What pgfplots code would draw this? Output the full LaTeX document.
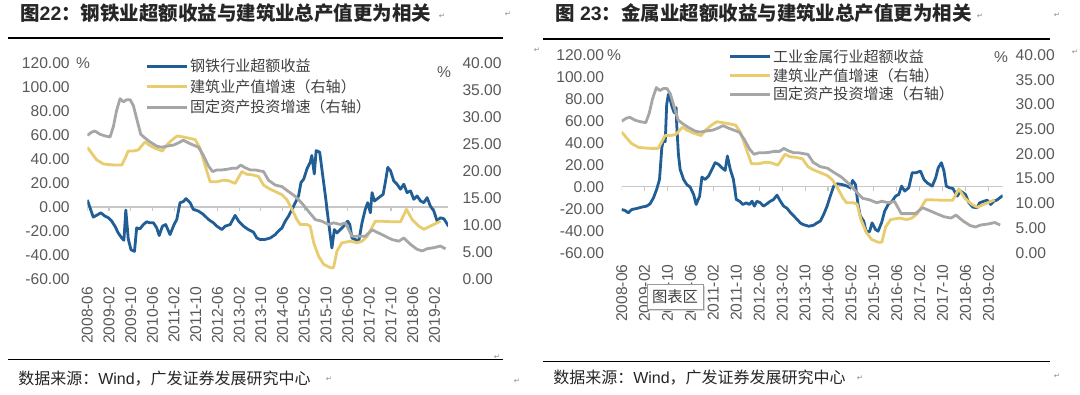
\documentclass[border=0pt]{standalone}
\usepackage{pgfplots}
\pgfplotsset{compat=1.18}
\usepackage{pgfplotstable}
\usepackage{fontspec}
\setmainfont{Liberation Sans}
\newfontfamily\cjk{Noto Sans CJK SC}
\newfontfamily\dejavu{DejaVu Sans}
\definecolor{cblue}{RGB}{33,94,150}
\definecolor{cyellow}{RGB}{232,204,110}
\definecolor{cgray}{RGB}{166,166,166}
\definecolor{ctick}{RGB}{89,89,89}
\definecolor{ctext}{RGB}{64,64,64}
\definecolor{czero}{RGB}{200,200,200}

% 钢铁行业超额收益 (left axis, chart 1)
\pgfplotstableread{
m v
0 5.9
2.2 -8.4
3.4 -7
5 -4.8
6.5 -7.6
7.8 -9
9 -11.8
10.2 -16
11.4 -21.6
12.7 -25.8
13.5 -27.7
14.2 -2.5
15.1 -26.6
16.1 -35.6
17.4 -37
18.2 -17.4
19.4 -18.2
20.7 -14.6
21.9 -12.3
23.1 -13.2
24.4 -13.2
25.6 -17.4
26.5 -23.8
27.7 -16
28.9 -14.6
30.5 -23
32 -14.6
33 -10.4
34.2 3.6
35.4 4.5
36.4 7
37.9 3.6
39.1 -2
41 -3.4
42.8 -6.2
44.7 -10.4
46.5 -13.2
47.8 -16
49.6 -18.8
50.8 -16
52.7 -14.6
54.5 -7
55.8 -11.8
57.6 -16
59.4 -18.8
61.3 -21
62.5 -25.8
63.8 -27.2
65.6 -27
67.5 -25.8
69.3 -23
70.5 -20
71.8 -17.4
73 -11.8
74.2 -7.6
75.5 -2
76.7 3.6
77.9 9.2
78.8 20.4
79.8 23.2
81 31.7
82.2 37.3
82.8 42.9
83.7 27.5
84.4 47
85.7 45.7
86.5 31.7
87.8 9.2
89 -13.2
90.2 -34.2
91.1 -18.8
92.1 -21.6
93.3 -18.8
94.5 -16
96 -11.8
96.8 -14.6
97.6 -25.8
98.9 -27.2
100.1 -28.6
101.3 -13.2
102.5 -2
103.4 3.6
104.4 -4.8
105 12
105.9 5
107.5 7.8
109.1 10.6
110 21.8
110.8 33
111.8 30.3
113 21.8
114.2 19
115.5 14.8
116.7 19
117.9 12
119.2 13.4
120.4 6.4
121.6 9.2
122.9 5
124.1 3.6
125.3 7.8
126.5 0.8
127.8 -3.4
129 -11.8
130.2 -9
131.5 -9.8
133.2 -16
}\steel

% 工业金属行业超额收益 (left axis, chart 2)
\pgfplotstableread{
m v
0 -20.7
1.2 -21.6
2.3 -23.7
3.5 -20.7
5.2 -19.8
7 -18.5
8.7 -17.6
9.9 -15.5
11.1 -10
12.2 -2.4
13.2 6.7
14 35.6
14.6 43.2
15.2 41
15.7 75
16.3 84.2
16.9 79.6
17.5 73.6
18.3 67.5
19 72
19.2 56.8
19.8 29.5
20.4 15.8
21.6 6.7
22.7 2.1
23.9 -0.3
25.1 -7
26 -16.1
27.2 -8.5
28 8.8
29.1 6.7
30.3 9.7
31.5 15.8
32.6 21.9
33.8 20.4
35 17.3
36.1 14.9
36.9 28
37.9 15.8
39 6.7
40 -11.6
41.1 -13.1
42.3 -16.1
43.5 -14.6
44.6 -16.1
45.5 -13.1
46.3 -17.6
47.2 -13.1
48.4 -14.6
49.5 -17.6
50.7 -15.5
51.9 -13.1
53 -11.6
54.2 -7.6
55.4 -13.1
56.5 -17.6
57.7 -19.5
58.9 -23.5
60.6 -28
62.4 -33
63.5 -34.5
65.3 -35.9
67 -35
68.2 -32.8
69.3 -31.3
70.5 -25.2
71.7 -17.6
72.8 -8.5
74 0.6
75.2 2.7
76.9 2.1
78.7 0.6
79.8 -0.9
80.6 5.8
81.6 2.1
82.5 -16.1
83.3 -26.7
84.5 -31.3
85.3 -40.4
86.5 -41
87.4 -32.8
88.6 -38.9
89.5 -40.4
90.7 -32.8
91.8 -22.2
93 -16.1
94.4 -13.1
95.6 -8.5
96.7 -7
97.7 0.6
98.8 -3.9
100.2 -0.9
101.4 12.8
102.8 12.8
104.3 14.3
105.5 6.7
106.6 3.6
108.4 0.6
109.6 8.2
110.5 17.3
111.6 21.9
112.5 14.3
113.3 0.6
114.4 -0.9
115.6 -1.5
117.1 -8.5
118.3 -3.9
120 -7
121.2 -14.6
122.6 -18.5
124.1 -19.1
124.9 -14.6
126.5 -13.1
127.6 -12.2
128.8 -16.1
130 -13
131 -12
132 -10
133 -8
}\metal

% 建筑业产值增速 (right axis)
\pgfplotstableread{
m v
0 24.4
1.6 23.3
3.4 22.1
5.9 21.3
7.8 21.2
10.2 21.1
12.7 21.1
13.9 22.3
15.1 23.7
17 23.7
18.8 23.9
21.3 25.4
22.8 24.8
25 24.2
27.7 23.7
29.3 24.8
31.1 25.7
33.2 26.5
35.4 26.3
37.3 26.1
39.8 25.8
41.6 24.2
43.4 21.1
45.3 18
47.8 18
50.2 18.3
52.1 18.2
54.5 17.7
57 19.9
58.8 19.4
60.7 19.3
63.1 19
65 17.4
66.8 16.8
69.3 16.2
71.8 15.6
73.6 14.7
75.5 12.9
77.3 11
78.5 10.1
81 10.1
82.2 9.8
83.5 6.7
85.3 4.2
87.2 2.7
89.6 2.1
90.8 2.1
92.1 5.2
93.9 6.7
97 7
99.5 6.7
101.3 7
103.2 7.9
106.2 10.7
108.1 10.7
112.4 10.6
115.5 10.6
117.7 12.9
119.8 11
122.2 9.8
124.1 9.2
126.5 9.8
129 10.4
130.2 10.7
}\build

% 固定资产投资增速 (right axis)
\pgfplotstableread{
m v
0 26.6
1.6 27.2
2.8 27.4
4.7 26.8
6.5 26.5
8.4 26.3
9.6 28.2
10.8 31.2
12.1 33.4
13.3 32.8
14.5 33.2
15.8 33.2
17 32.1
18.2 29.7
19.7 26.8
21.3 26.1
23.1 25.4
25.6 24.6
27.4 24.4
29.3 24.6
31.8 24.8
33.6 25.2
35.4 25.7
37.3 25.2
39.1 24.8
41 24.4
42.8 22.9
44.7 20.9
46.2 19.9
47.8 20.2
49.6 20.2
51.4 20.3
53.3 20.5
55.1 20.5
56.6 21.1
58.2 20.6
60.1 20.2
61.9 20.2
63.8 20
65 19.9
66.8 18.3
69.3 17.4
71.8 17.1
74.2 16.2
76.7 15.3
79.2 14
81.6 12.5
84.1 11
86.5 10.7
89 10.1
90.8 10.4
93.3 10.1
95.2 10.4
97.6 7.9
100.1 7.9
102.5 7.9
105 9.1
107.5 8.5
109.9 7.9
112.4 7.3
114.9 7
116.7 7.6
119.2 6.4
121.6 5.5
123.5 5.2
125.3 5.6
127.8 5.8
130.2 6.1
132.1 5.6
}\fai

\pgfplotsset{
  base/.style={
    scale only axis,
    xmin=0, xmax=133,
    axis line style={draw=none},
    major tick length=0pt,
    tick style={draw=none},
    ticklabel style={font=\fontsize{11.7}{13}\selectfont, text=ctick},
  },
  leftax/.style={
    base,
    ymin=-60, ymax=120,
    ytick={-60,-40,...,120},
    yticklabels={-60.00,-40.00,-20.00,0.00,20.00,40.00,60.00,80.00,100.00,120.00},
    xtick={0,8,...,128},
    xticklabels={2008-06,2009-02,2009-10,2010-06,2011-02,2011-10,2012-06,2013-02,2013-10,2014-06,2015-02,2015-10,2016-06,2017-02,2017-10,2018-06,2019-02},
    x tick label style={rotate=90, anchor=east},
    axis y line*=left, axis x line*=bottom,
    yticklabel shift=9.7pt,
  },
  rightax/.style={
    base,
    ymin=0, ymax=40,
    ytick={0,5,...,40},
    yticklabels={0.00,5.00,10.00,15.00,20.00,25.00,30.00,35.00,40.00},
    axis y line*=right, axis x line=none,
    legend cell align=left,
    legend image code/.code={\draw[##1] (0pt,0pt) -- (30pt,0pt);},
  },
  sblue/.style={cblue, line width=2.1pt, line join=round},
  syellow/.style={cyellow, line width=2.1pt, line join=round},
  sgray/.style={cgray, line width=2.1pt, line join=round},
}

\begin{document}
\begin{tikzpicture}
\begin{scope}[x=0.75pt,y=-0.75pt]
  \fill[white] (0,0) rectangle (1080,395);
  \useasboundingbox (0,0) rectangle (1080,395);
\end{scope}

% ---------------- Chart 1 ----------------
\begin{axis}[leftax, at={(65.475pt,-209.25pt)}, anchor=south west,
  width=270.5pt, height=162pt, xticklabel shift=2.2pt]
  \draw[czero, line width=0.9pt] (axis cs:0,0) -- (axis cs:133,0);
  \pgfplotsinvokeforeach{0,8,...,128}{\draw[czero, line width=0.8pt] (axis cs:#1,0) -- ([yshift=-3pt]axis cs:#1,0);}
  \addplot[sblue] table[x=m,y=v] {\steel};
\end{axis}
\begin{axis}[rightax, at={(65.475pt,-209.25pt)}, anchor=south west,
  width=270.5pt, height=162pt, yticklabel shift=7.4pt,
  legend style={at={(0.162,1.0245)}, anchor=north west, draw=none, fill=none,
    font=\cjk\fontsize{11.3}{13}\selectfont, text=ctext, row sep=2.1pt, inner sep=0pt,
    nodes={inner sep=1pt}}]
  \addlegendimage{sblue}
  \addlegendentry{钢铁行业超额收益}
  \addplot[syellow] table[x=m,y=v] {\build};
  \addlegendentry{建筑业产值增速（右轴）}
  \addplot[sgray] table[x=m,y=v] {\fai};
  \addlegendentry{固定资产投资增速（右轴）}
\end{axis}

% ---------------- Chart 2 ----------------
\begin{axis}[leftax, at={(466.275pt,-189.525pt)}, anchor=south west,
  width=285.75pt, height=148.3pt, xticklabel shift=5.4pt]
  \draw[czero, line width=0.9pt] (axis cs:0,0) -- (axis cs:133,0);
  \pgfplotsinvokeforeach{0,8,...,128}{\draw[czero, line width=0.8pt] (axis cs:#1,0) -- ([yshift=-3pt]axis cs:#1,0);}
  \addplot[sblue] table[x=m,y=v] {\metal};
\end{axis}
\begin{axis}[rightax, at={(466.275pt,-189.525pt)}, anchor=south west,
  width=285.75pt, height=148.3pt, yticklabel shift=6.2pt,
  legend style={at={(0.281,1.037)}, anchor=north west, draw=none, fill=none,
    font=\cjk\fontsize{11.3}{13}\selectfont, text=ctext, row sep=1.05pt, inner sep=0pt,
    nodes={inner sep=1pt}}]
  \addlegendimage{sblue}
  \addlegendentry{工业金属行业超额收益}
  \addplot[syellow] table[x=m,y=v] {\build};
  \addlegendentry{建筑业产值增速（右轴）}
  \addplot[sgray] table[x=m,y=v] {\fai};
  \addlegendentry{固定资产投资增速（右轴）}
\end{axis}

% ---------------- Decorations ----------------
\begin{scope}[x=0.75pt,y=-0.75pt]
  % titles
  \node[anchor=west, inner sep=0pt, text=black!85] at (20,13)
    {\fontsize{14.6}{16}\selectfont\bfseries{\cjk 图}22{\cjk ：钢铁业超额收益与建筑业总产值更为相关}};
  \node[anchor=west, inner sep=0pt, text=black!85] at (555,13)
    {\fontsize{14.6}{16}\selectfont\bfseries{\cjk 图} 23{\cjk ：金属业超额收益与建筑业总产值更为相关}};
  % rules
  \draw[black, line width=1.3pt] (8,38.3) -- (503,38.3);
  \draw[black, line width=1.3pt] (543,39.3) -- (1050,39.3);
  \draw[black, line width=1pt] (8,359.5) -- (503,359.5);
  \draw[black, line width=1pt] (543,361.5) -- (1050,361.5);
  % sources
  \node[anchor=west, inner sep=0pt, text=black!85] at (18,379)
    {\fontsize{12}{14}\selectfont{\cjk 数据来源：}Wind{\cjk ，广发证券发展研究中心}};
  \node[anchor=west, inner sep=0pt, text=black!85] at (553,378)
    {\fontsize{12}{14}\selectfont{\cjk 数据来源：}Wind{\cjk ，广发证券发展研究中心}};
  % percent signs
  \node[text=ctick, inner sep=0pt, font=\fontsize{11.7}{13}\selectfont] at (83,63) {\%};
  \node[text=ctick, inner sep=0pt, font=\fontsize{11.7}{13}\selectfont] at (444,72) {\%};
  \node[text=ctick, inner sep=0pt, font=\fontsize{11.7}{13}\selectfont] at (614,55) {\%};
  \node[text=ctick, inner sep=0pt, font=\fontsize{11.7}{13}\selectfont] at (1001,57) {\%};
  % tooltip box
  \fill[black!15] (649,286) rectangle (705,311);
  \draw[fill=white, draw=black!40, line width=0.6pt] (647,284) rectangle (703,309);
  \node[inner sep=0pt, text=black!75, font=\cjk\fontsize{11.5}{13}\selectfont] at (675,296.5) {图表区};
  % paragraph marks
  \foreach \p in {(442,16),(508,14),(980,16),(1057,15),(537,50),(1075,52),(497,357),(329,379),(517,381),(860,378),(1057,376)}
    \node[inner sep=0pt, text=black!45, font=\dejavu\fontsize{5.5}{6}\selectfont] at \p {↵};
\end{scope}
\end{tikzpicture}
\end{document}
